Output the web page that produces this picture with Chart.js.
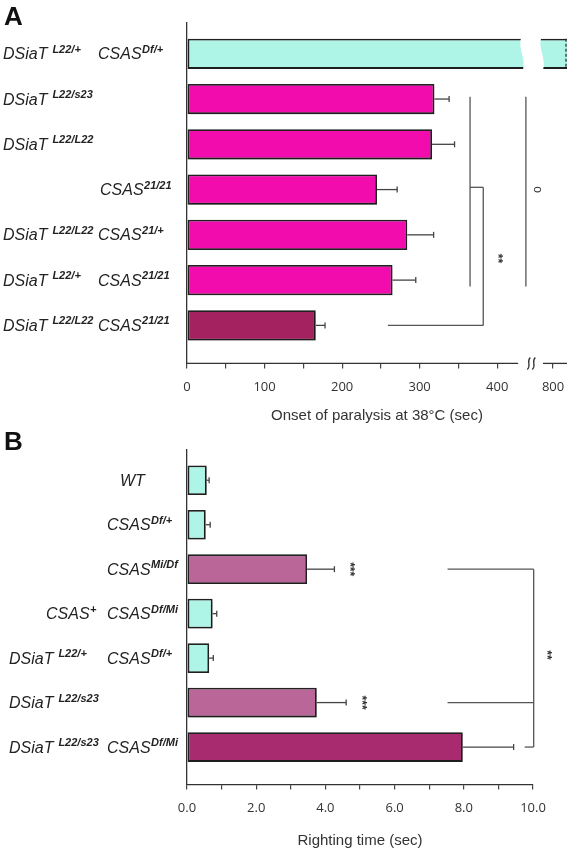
<!DOCTYPE html>
<html>
<head>
<meta charset="utf-8">
<script src="https://cdn.jsdelivr.net/npm/chart.js@4.4.1/dist/chart.umd.min.js"></script>
<style>
  body { margin: 0; background: #fff; width: 576px; height: 853px; position: relative; overflow: hidden; }
  canvas { position: absolute; left: 0; }
  #ca { top: 0; }
  #cb { top: 430px; }
  .tag { position: absolute; left: 4px; font: bold 26px "Liberation Sans", Arial, sans-serif; line-height: 1; color: #111; z-index: 2; }
</style>
</head>
<body>
<canvas id="ca" width="576" height="430"></canvas>
<canvas id="cb" width="576" height="423"></canvas>
<div class="tag" style="top:3px">A</div>
<div class="tag" style="top:428px">B</div>
<script>
// ---- panel A: onset of paralysis at 38 C (sec)
// label syntax: column|column, base^superscript
var labelsA = ['DSiaT ^L22/+|CSAS^Df/+', 'DSiaT ^L22/s23|', 'DSiaT ^L22/L22|', '|CSAS^21/21',
               'DSiaT ^L22/L22|CSAS^21/+', 'DSiaT ^L22/+|CSAS^21/21', 'DSiaT ^L22/L22|CSAS^21/21'];
var onsetA = [1100, 319, 316, 245, 284, 265, 166];   // first bar runs off the cut axis
var errA = [null, 19, 29, 26, 34, 30, 12];
var ticksA = [0, 50, 100, 150, 200, 250, 300, 350, 400, 800];

// ---- panel B: righting time (sec)
var labelsB = ['|WT', '|CSAS^Df/+', '|CSAS^Mi/Df', 'CSAS^+|CSAS^Df/Mi',
               'DSiaT ^L22/+|CSAS^Df/+', 'DSiaT ^L22/s23|', 'DSiaT ^L22/s23|CSAS^Df/Mi'];
var rightingB = [0.57, 0.54, 3.47, 0.74, 0.64, 3.75, 7.97];
var errB = [0.07, 0.13, 0.79, 0.12, 0.12, 0.85, 1.47];

var CYAN = '#aef5e8', MAG = '#f20cae', PLUM = '#a3225f', MAUVE = '#bb6699', WINE = '#a82b70';
var colorsA = [CYAN, MAG, MAG, MAG, MAG, MAG, PLUM];
var colorsB = [CYAN, CYAN, MAUVE, CYAN, CYAN, MAUVE, WINE];

// axis A is cut after 440, 800 sits just past the cut
var BREAK = 440;
function toAxis(v) { return v <= BREAK ? v : BREAK + (v - BREAK) * 32 / 360; }
function same(v) { return v; }

Chart.defaults.font.family = '"Liberation Sans", Arial, sans-serif';
Chart.defaults.color = '#333';

var shadow = {
  id: 'shadow',
  beforeDatasetDraw: function(chart) {
    var c = chart.ctx;
    c.save();
    c.shadowColor = 'rgba(0,0,0,0.3)';
    c.shadowBlur = 3;
    c.shadowOffsetX = 1;
    c.shadowOffsetY = 1;
  },
  afterDatasetDraw: function(chart) { chart.ctx.restore(); }
};

function line(c, x1, y1, x2, y2) {
  c.beginPath(); c.moveTo(x1, y1); c.lineTo(x2, y2); c.stroke();
}

function overlay(cfg) {
  return {
    id: 'overlay',
    afterDatasetsDraw: function(chart) {
      var c = chart.ctx, xs = chart.scales.x;
      c.save();
      c.strokeStyle = '#444'; c.lineWidth = 1.3;
      chart.getDatasetMeta(0).data.forEach(function(bar, i) {
        if (cfg.err[i] == null) return;
        var x2 = xs.getPixelForValue(cfg.toX(cfg.values[i] + cfg.err[i]));
        line(c, bar.x, bar.y, x2, bar.y);
        line(c, x2, bar.y - 3, x2, bar.y + 3);
      });
      c.restore();
    },
    afterDraw: function(chart) {
      var c = chart.ctx, xs = chart.scales.x, ys = chart.scales.y;
      c.save();
      // category labels, italic with bold superscripts
      c.fillStyle = '#222';
      c.textBaseline = 'alphabetic';
      cfg.labels.forEach(function(lab, i) {
        var base = ys.getPixelForValue(i) + 5.5;
        lab.split('|').forEach(function(col, k) {
          if (!col) return;
          var parts = col.split('^');
          var x = cfg.colX[k][i];
          c.font = 'italic 16px "Liberation Sans"';
          c.fillText(parts[0], x, base);
          x += c.measureText(parts[0]).width;
          if (parts[1]) {
            c.font = 'italic bold 11px "Liberation Sans"';
            c.fillText(parts[1], x + 0.5, base - 6.5);
          }
        });
      });
      // significance brackets
      c.strokeStyle = '#555'; c.lineWidth = 1.3;
      cfg.brackets.forEach(function(s) {
        line(c, xs.getPixelForValue(s[0]), ys.getPixelForValue(s[1]),
                xs.getPixelForValue(s[2]), ys.getPixelForValue(s[3]));
      });
      c.fillStyle = '#333';
      c.textAlign = 'center'; c.textBaseline = 'middle';
      cfg.notes.forEach(function(n) {
        c.save();
        c.font = (n.t === 'o' ? '' : 'bold ') + '12px "Liberation Sans"';
        c.translate(xs.getPixelForValue(n.x), ys.getPixelForValue(n.y));
        c.rotate(Math.PI / 2);
        c.fillText(n.t, 0, 0);
        c.restore();
      });
      c.restore();
      if (cfg.extra) cfg.extra(chart);
    }
  };
}

// the cut in axis A and in the first bar
function cutA(chart) {
  var c = chart.ctx, xs = chart.scales.x, area = chart.chartArea;
  var y = xs.top;
  c.save();
  c.strokeStyle = '#333'; c.lineWidth = 1.3;
  line(c, xs.left, y, xs.getPixelForValue(427), y);
  line(c, xs.getPixelForValue(459), y, xs.right, y);
  var mx = xs.getPixelForValue(444);
  [-2.5, 2.5].forEach(function(d) {
    c.beginPath();
    c.moveTo(mx + d + 1.5, y - 6);
    c.bezierCurveTo(mx + d - 3, y - 2, mx + d + 3, y + 2, mx + d - 1.5, y + 6);
    c.stroke();
  });
  var bar = chart.getDatasetMeta(0).data[0];
  var top = bar.y - bar.height / 2 - 3, bot = bar.y + bar.height / 2 + 3;
  var xl = xs.getPixelForValue(432), xr = xs.getPixelForValue(458);
  c.fillStyle = '#fff';
  c.beginPath();
  c.moveTo(xl, top);
  c.bezierCurveTo(xl - 6, top + 12, xl + 6, bot - 12, xl, bot);
  c.lineTo(xr, bot);
  c.bezierCurveTo(xr + 6, bot - 12, xr - 6, top + 12, xr, top);
  c.closePath();
  c.fill();
  c.setLineDash([3, 2]);
  line(c, area.right - 1, bar.y - bar.height / 2, area.right - 1, bar.y + bar.height / 2);
  c.restore();
}

function barSet(values, toX, colors) {
  return {
    data: values.map(function(v, i) { return { x: toX(v), y: i }; }),
    backgroundColor: colors,
    borderColor: '#222',
    borderWidth: 1.8,
    borderSkipped: false,
    barPercentage: 0.667,
    categoryPercentage: 1,
    clip: { left: false, top: false, right: 0, bottom: false }
  };
}

function yScale(n) {
  return {
    type: 'linear', reverse: true, min: -0.68, max: 6.84, offset: false,
    // one hidden tick per row so the bar width follows the row pitch
    afterBuildTicks: function(s) {
      s.ticks = [];
      for (var i = 0; i < n; i++) s.ticks.push({ value: i });
    },
    ticks: { display: false },
    grid: { display: false },
    border: { display: true, color: '#333', width: 1.3 },
    afterFit: function(s) { s.width = 187; }
  };
}

new Chart(document.getElementById('ca'), {
  type: 'bar',
  data: { datasets: [barSet(onsetA, toAxis, colorsA)] },
  options: {
    indexAxis: 'y', responsive: false, animation: false,
    layout: { padding: { top: 23, right: 9, bottom: 1, left: 0 } },
    plugins: { legend: { display: false }, tooltip: { enabled: false } },
    scales: {
      x: {
        type: 'linear', min: 0, max: 490,
        afterBuildTicks: function(s) { s.ticks = ticksA.map(function(v) { return { value: toAxis(v) }; }); },
        ticks: {
          autoSkip: false, maxRotation: 0, padding: 11, color: '#333',
          font: { family: '"Open Sans"', size: 13 },
          callback: function(v, i) { return ticksA[i] % 100 === 0 ? String(ticksA[i]) : ''; }
        },
        grid: { drawOnChartArea: false, drawTicks: true, tickLength: 5, color: '#444', lineWidth: 1.2 },
        border: { display: false },
        title: { display: true, text: 'Onset of paralysis at 38°C (sec)', color: '#333',
                 font: { size: 15 }, padding: { top: 1, bottom: 4 } }
      },
      y: yScale(labelsA.length)
    }
  },
  plugins: [shadow, overlay({
    labels: labelsA, values: onsetA, err: errA, toX: toAxis,
    colX: [[3, 3, 3, 3, 3, 3, 3], [98, 98, 98, 100, 98, 98, 98]],
    brackets: [[365, 0.95, 365, 5.14], [437, 0.95, 437, 5.14], [365, 2.95, 382, 2.95],
               [382, 2.95, 382, 6], [259, 6, 382, 6]],
    notes: [{ t: 'o', x: 452, y: 3 }, { t: '**', x: 400, y: 4.52 }],
    extra: cutA
  })]
});

new Chart(document.getElementById('cb'), {
  type: 'bar',
  data: { datasets: [barSet(rightingB, same, colorsB)] },
  options: {
    indexAxis: 'y', responsive: false, animation: false,
    layout: { padding: { top: 20, right: 43, bottom: 0, left: 0 } },
    plugins: { legend: { display: false }, tooltip: { enabled: false } },
    scales: {
      x: {
        type: 'linear', min: 0, max: 10,
        ticks: {
          stepSize: 1, autoSkip: false, maxRotation: 0, padding: 11, color: '#333',
          font: { family: '"Open Sans"', size: 13 },
          callback: function(v) { return v % 2 === 0 ? v.toFixed(1) : ''; }
        },
        grid: { drawOnChartArea: false, drawTicks: true, tickLength: 5, color: '#444', lineWidth: 1.2 },
        border: { display: true, color: '#333', width: 1.3 },
        title: { display: true, text: 'Righting time (sec)', color: '#333',
                 font: { size: 15 }, padding: { top: 5, bottom: 3 } }
      },
      y: yScale(labelsB.length)
    }
  },
  plugins: [shadow, overlay({
    labels: labelsB, values: rightingB, err: errB, toX: same,
    colX: [[0, 0, 0, 46, 9, 9, 9], [120, 107, 107, 107, 107, 107, 107]],
    brackets: [[7.53, 2, 10.02, 2], [10.02, 2, 10.02, 6], [7.53, 5, 10.02, 5], [9.76, 6, 10.02, 6]],
    notes: [{ t: '***', x: 4.68, y: 2 }, { t: '**', x: 10.38, y: 3.93 }, { t: '***', x: 5.04, y: 5 }]
  })]
});
</script>
</body>
</html>
